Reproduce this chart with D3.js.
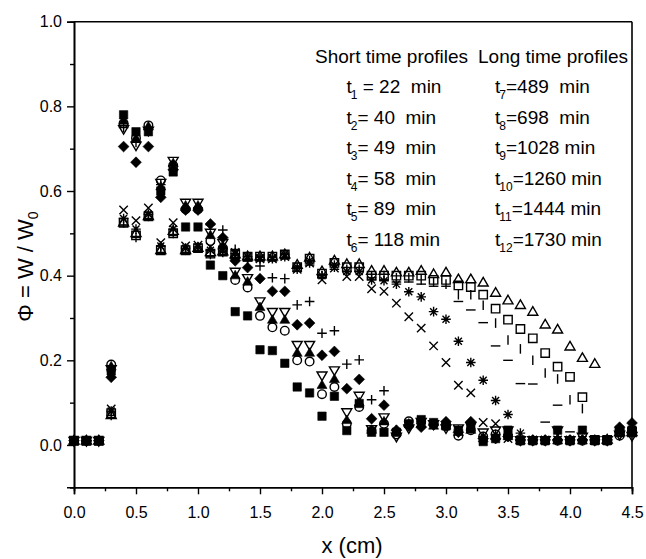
<!DOCTYPE html>
<html>
<head>
<meta charset="utf-8">
<script src="https://cdn.jsdelivr.net/npm/d3@7"></script>
<style>
  body { margin: 0; background: #fff; }
  svg { display: block; font-family: "Liberation Sans", Arial, sans-serif; }
</style>
</head>
<body>
<div id="chart"></div>
<script>
// Concentration profiles Phi = W / W0 along x, short and long times

const xPos = [0.0, 0.1, 0.2, 0.3, 0.4, 0.5, 0.6, 0.7, 0.8, 0.9,
  1.0, 1.1, 1.2, 1.3, 1.4, 1.5, 1.6, 1.7, 1.8, 1.9,
  2.0, 2.1, 2.2, 2.3, 2.4, 2.5, 2.6, 2.7, 2.8, 2.9,
  3.0, 3.1, 3.2, 3.3, 3.4, 3.5, 3.6, 3.7, 3.8, 3.9,
  4.0, 4.1, 4.2, 4.3, 4.4, 4.5];

// short time profiles
const t1 = [0.01, 0.01, 0.01, 0.175, 0.78, 0.74, 0.74, 0.60, 0.645, 0.515,
  0.515, 0.425, 0.40, 0.315, 0.305, 0.225, 0.223, 0.193, 0.137, 0.123,
  0.068, 0.115, 0.034, 0.098, 0.03, 0.03, 0.03, 0.05, 0.06, 0.053,
  0.045, 0.035, 0.04, 0.008, 0.015, 0.035, 0.01, 0.01, 0.01, 0.035,
  0.01, 0.035, 0.01, 0.01, 0.035, 0.035];
const t2 = [0.01, 0.01, 0.01, 0.19, 0.76, 0.725, 0.755, 0.625, 0.66, 0.557,
  0.557, 0.482, 0.465, 0.39, 0.372, 0.305, 0.278, 0.27, 0.20, 0.197,
  0.12, 0.137, 0.05, 0.09, 0.033, 0.05, 0.025, 0.056, 0.055, 0.05,
  0.045, 0.022, 0.035, 0.02, 0.025, 0.02, 0.01, 0.01, 0.01, 0.01,
  0.01, 0.01, 0.01, 0.01, 0.022, 0.03];
const t3 = [0.01, 0.01, 0.01, 0.185, 0.765, 0.724, 0.752, 0.61, 0.665, 0.565,
  0.565, 0.495, 0.47, 0.40, 0.385, 0.325, 0.295, 0.295, 0.217, 0.217,
  0.141, 0.155, 0.058, 0.10, 0.035, 0.055, 0.03, 0.05, 0.05, 0.045,
  0.045, 0.03, 0.035, 0.015, 0.02, 0.02, 0.01, 0.01, 0.01, 0.01,
  0.01, 0.01, 0.01, 0.01, 0.035, 0.035];
const t4 = [0.01, 0.01, 0.01, 0.18, 0.747, 0.708, 0.743, 0.62, 0.672, 0.573,
  0.573, 0.502, 0.478, 0.41, 0.395, 0.34, 0.315, 0.315, 0.237, 0.237,
  0.165, 0.177, 0.078, 0.117, 0.038, 0.066, 0.02, 0.04, 0.055, 0.05,
  0.04, 0.04, 0.045, 0.03, 0.035, 0.035, 0.012, 0.012, 0.012, 0.035,
  0.012, 0.02, 0.012, 0.012, 0.025, 0.022];
const t5 = [0.01, 0.01, 0.01, 0.16, 0.705, 0.668, 0.705, 0.585, 0.65, 0.555,
  0.555, 0.522, 0.49, 0.435, 0.419, 0.393, 0.363, 0.363, 0.284, 0.288,
  0.212, 0.221, 0.133, 0.155, 0.062, 0.094, 0.035, 0.045, 0.042, 0.047,
  0.055, 0.03, 0.055, 0.015, 0.015, 0.02, 0.012, 0.012, 0.012, 0.012,
  0.012, 0.012, 0.012, 0.012, 0.042, 0.052];
const t6 = [0.01, 0.01, 0.01, 0.175, 0.75, 0.715, 0.745, 0.615, 0.66, 0.56,
  0.56, 0.52, 0.508, 0.462, 0.435, 0.423, 0.395, 0.393, 0.331, 0.339,
  0.264, 0.27, 0.191, 0.201, 0.107, 0.128, 0.035, 0.045, 0.05, 0.05,
  0.05, 0.035, 0.05, 0.02, 0.025, 0.025, 0.012, 0.012, 0.012, 0.012,
  0.012, 0.012, 0.012, 0.012, 0.035, 0.04];

// long time profiles
const t7 = [0.01, 0.01, 0.01, 0.085, 0.555, 0.53, 0.56, 0.478, 0.525, 0.47,
  0.472, 0.468, 0.46, 0.455, 0.445, 0.44, 0.44, 0.445, 0.415, 0.43,
  0.39, 0.418, 0.398, 0.398, 0.369, 0.363, 0.335, 0.303, 0.276, 0.234,
  0.195, 0.141, 0.123, 0.053, 0.05, 0.015, 0.012, 0.012, 0.012, 0.012,
  0.012, 0.012, 0.012, 0.012, 0.03, 0.03];
const t8 = [0.01, 0.01, 0.01, 0.08, 0.535, 0.51, 0.545, 0.47, 0.51, 0.465,
  0.468, 0.46, 0.458, 0.452, 0.445, 0.443, 0.443, 0.45, 0.42, 0.435,
  0.40, 0.425, 0.41, 0.41, 0.39, 0.388, 0.38, 0.362, 0.35, 0.315,
  0.297, 0.245, 0.195, 0.153, 0.105, 0.072, 0.028, 0.012, 0.012, 0.012,
  0.012, 0.012, 0.012, 0.012, 0.03, 0.03];
const t9 = [0.01, 0.01, 0.01, 0.07, 0.52, 0.49, 0.535, 0.455, 0.495, 0.455,
  0.46, 0.445, 0.45, 0.44, 0.435, 0.435, 0.435, 0.44, 0.41, 0.425,
  0.395, 0.415, 0.41, 0.41, 0.395, 0.39, 0.385, 0.385, 0.38, 0.375,
  0.375, 0.339, 0.319, 0.289, 0.234, 0.20, 0.145, 0.144, 0.054, 0.094,
  0.031, 0.012, 0.012, 0.012, 0.03, 0.03];
const t10 = [0.01, 0.01, 0.01, 0.07, 0.525, 0.49, 0.54, 0.46, 0.50, 0.46,
  0.465, 0.45, 0.455, 0.445, 0.44, 0.44, 0.44, 0.445, 0.415, 0.43,
  0.40, 0.42, 0.415, 0.415, 0.40, 0.40, 0.395, 0.395, 0.39, 0.385,
  0.38, 0.355, 0.355, 0.33, 0.288, 0.248, 0.227, 0.20, 0.17, 0.156,
  0.107, 0.086, 0.012, 0.012, 0.03, 0.03];
const t11 = [0.01, 0.01, 0.01, 0.075, 0.525, 0.495, 0.54, 0.46, 0.50, 0.46,
  0.465, 0.452, 0.457, 0.45, 0.445, 0.445, 0.445, 0.45, 0.42, 0.44,
  0.405, 0.43, 0.42, 0.42, 0.40, 0.40, 0.40, 0.40, 0.40, 0.39,
  0.39, 0.377, 0.373, 0.355, 0.322, 0.296, 0.274, 0.252, 0.217, 0.185,
  0.161, 0.113, 0.012, 0.012, 0.03, 0.03];
const t12 = [0.01, 0.01, 0.01, 0.07, 0.525, 0.50, 0.54, 0.46, 0.505, 0.46,
  0.465, 0.455, 0.457, 0.45, 0.445, 0.445, 0.445, 0.45, 0.425, 0.442,
  0.41, 0.435, 0.427, 0.427, 0.411, 0.411, 0.407, 0.407, 0.411, 0.403,
  0.407, 0.391, 0.391, 0.383, 0.359, 0.341, 0.33, 0.314, 0.284, 0.272,
  0.232, 0.205, 0.191, 0.012, 0.03, 0.03];

const seriesValues = [t1, t2, t3, t4, t5, t6, t7, t8, t9, t10, t11, t12];
const seriesSymbols = ["squareFill", "circle", "triUpFill", "triDown", "diamondFill", "plus",
  "times", "asterisk", "dash", "bar", "square", "triUp"];

const xMajorTicks = [0, 0.5, 1.0, 1.5, 2.0, 2.5, 3.0, 3.5, 4.0, 4.5];
const xMinorTicks = [0.25, 0.75, 1.25, 1.75, 2.25, 2.75, 3.25, 3.75, 4.25];
const yMajorTicks = [0, 0.2, 0.4, 0.6, 0.8, 1.0];
const yMinorTicks = [-0.1, 0.1, 0.3, 0.5, 0.7, 0.9];

const shortTitle = "Short time profiles";
const longTitle = "Long time profiles";
const shortSubs = ["1", "2", "3", "4", "5", "6"];
const shortRests = [" = 22  min", "= 40  min", "= 49  min", "= 58  min", "= 89  min", "= 118 min"];
const longSubs = ["7", "8", "9", "10", "11", "12"];
const longRests = ["=489  min", "=698  min", "=1028 min", "=1260 min", "=1444 min", "=1730 min"];

const W = 646, H = 559;
const margin = { top: 21.7, right: 14, bottom: 71.7, left: 74 };
const width = W - margin.left - margin.right;
const height = H - margin.top - margin.bottom;

const svg = d3.select("#chart").append("svg")
  .attr("width", W)
  .attr("height", H);

const g = svg.append("g")
  .attr("transform", `translate(${margin.left},${margin.top})`);

const x = d3.scaleLinear().domain([0, 4.5]).range([0, width]);
const y = d3.scaleLinear().domain([-0.1, 1.0]).range([height, 0]);

// axes
g.append("g")
  .attr("transform", `translate(0,${height})`)
  .call(d3.axisBottom(x).tickValues(xMajorTicks).tickSize(7).tickPadding(12).tickFormat(d3.format(".1f")));
g.append("g")
  .attr("transform", `translate(0,${height})`)
  .call(d3.axisBottom(x).tickValues(xMinorTicks).tickSize(4).tickFormat(""));

g.append("g")
  .call(d3.axisLeft(y).tickValues(yMajorTicks).tickSize(7).tickPadding(5).tickFormat(d3.format(".1f")));
g.append("g")
  .call(d3.axisLeft(y).tickValues(yMinorTicks).tickSize(4).tickFormat(""));

g.selectAll(".domain").attr("stroke", "#000").attr("stroke-width", 1.6);
g.selectAll(".tick line").attr("stroke", "#000").attr("stroke-width", 1.4);
g.selectAll(".tick text")
  .attr("fill", "#000")
  .style("font-size", "16px")
  .style("font-family", "'Liberation Sans', Arial, sans-serif");

// frame top and right
g.append("line").attr("x1", 0).attr("x2", width).attr("y1", 0).attr("y2", 0)
  .attr("stroke", "#000").attr("stroke-width", 1.6);
g.append("line").attr("x1", width).attr("x2", width).attr("y1", 0).attr("y2", height)
  .attr("stroke", "#000").attr("stroke-width", 1.6);

// symbols
const symbolPaths = {
  squareFill: "M-4.2,-4.2h8.4v8.4h-8.4Z",
  square: "M-4.2,-4.2h8.4v8.4h-8.4Z",
  circle: "M4.3,0A4.3,4.3 0 1,1 -4.3,0A4.3,4.3 0 1,1 4.3,0Z",
  triUpFill: "M0,-5.4L5,3.2L-5,3.2Z",
  triUp: "M0,-5.4L5,3.2L-5,3.2Z",
  triDown: "M0,5.4L5,-3.2L-5,-3.2Z",
  diamondFill: "M0,-5.4L5.4,0L0,5.4L-5.4,0Z",
  plus: "M-4.8,0H4.8M0,-4.8V4.8",
  times: "M-4.2,-4.2L4.2,4.2M-4.2,4.2L4.2,-4.2",
  asterisk: "M-4.8,0H4.8M0,-4.8V4.8M-3.5,-3.5L3.5,3.5M-3.5,3.5L3.5,-3.5",
  dash: "M-4.8,0H4.8",
  bar: "M0,-4.8V4.8"
};
const filledSymbols = ["squareFill", "triUpFill", "diamondFill"];

seriesValues.forEach((vals, i) => {
  const sym = seriesSymbols[i];
  const filled = filledSymbols.includes(sym);
  const pts = xPos.map((xv, j) => ({ x: xv, v: vals[j] })).filter(d => d.v != null);
  g.append("g")
    .selectAll("path")
    .data(pts)
    .join("path")
    .attr("transform", d => `translate(${x(d.x)},${y(d.v)})`)
    .attr("d", symbolPaths[sym])
    .attr("fill", filled ? "#000" : "none")
    .attr("stroke", "#000")
    .attr("stroke-width", filled ? 0.6 : 1.4);
});

// axis titles
svg.append("text")
  .attr("x", 352)
  .attr("y", 553)
  .attr("text-anchor", "middle")
  .style("font-size", "22px")
  .text("x (cm)");

const yTitle = svg.append("text")
  .attr("transform", `translate(33,${margin.top + height / 2 + 12}) rotate(-90)`)
  .attr("text-anchor", "middle")
  .style("font-size", "22px");
yTitle.append("tspan").text("\u03A6 = W / W");
yTitle.append("tspan").attr("dy", 5).style("font-size", "14px").text("0");

// legend text
svg.append("text").attr("x", 315).attr("y", 63).style("font-size", "19px").text(shortTitle);
svg.append("text").attr("x", 478).attr("y", 63).style("font-size", "19px").text(longTitle);

function legendRow(x0, y0, sub, rest) {
  const t = svg.append("text")
    .attr("x", x0).attr("y", y0)
    .attr("xml:space", "preserve")
    .style("font-size", "19px")
    .style("white-space", "pre");
  t.append("tspan").text("t");
  t.append("tspan").attr("dy", 6).attr("dx", -1).style("font-size", "12px").text(sub);
  t.append("tspan").attr("dy", -6).text(rest);
}

const rowY = [93, 123.5, 154, 184.5, 215, 245.5];
shortSubs.forEach((s, i) => legendRow(346.5, rowY[i], s, shortRests[i]));
longSubs.forEach((s, i) => legendRow(495, rowY[i], s, longRests[i]));
</script>
</body>
</html>
